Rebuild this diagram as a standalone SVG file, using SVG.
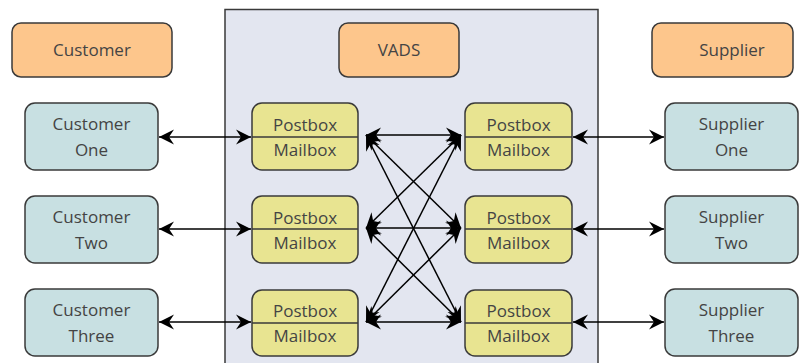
<svg xmlns="http://www.w3.org/2000/svg" width="805" height="363" viewBox="0 0 805 363">
<style>
.hdr{fill:#fdc68c;stroke:#3a3a3a;stroke-width:1.5}
.ent{fill:#c8e0e2;stroke:#3a3a3a;stroke-width:1.5}
.box{fill:#e8e491;stroke:#3a3a3a;stroke-width:1.5}
.div{stroke:#3a3a3a;stroke-width:1.5}
text{font-family:"Open Sans","Noto Sans",sans-serif;font-size:17px;fill:#444;text-anchor:middle}
.c line{stroke:#000;stroke-width:1.5;marker-start:url(#ah);marker-end:url(#ah)}
</style>
<defs>
<marker id="ah" viewBox="-16 -8 17 16" markerWidth="17" markerHeight="16" refX="0" refY="0" orient="auto-start-reverse" markerUnits="userSpaceOnUse">
<path d="M0,0 L-15,-7.5 L-10,0 L-15,7.5 Z" fill="#000"/>
</marker>
</defs>
<rect width="805" height="363" fill="#fff"/>
<g id="vads-area">
<rect x="225" y="9.5" width="373" height="365" fill="#e3e6f0" stroke="#3a3a3a" stroke-width="1.5"/>
</g>
<g id="hdr-customer"><rect class="hdr" x="12" y="23" width="160" height="54" rx="9"/><text x="92" y="56">Customer</text></g>
<g id="hdr-vads"><rect class="hdr" x="339" y="23" width="120" height="54" rx="9"/><text x="399" y="56">VADS</text></g>
<g id="hdr-supplier"><rect class="hdr" x="652" y="23" width="141" height="54" rx="9"/><text x="732" y="56">Supplier</text></g>

<g id="customer-one"><rect class="ent" x="25" y="103" width="133" height="67" rx="10"/><text x="91.5" y="130">Customer</text><text x="91.5" y="156">One</text></g>
<g id="customer-two"><rect class="ent" x="25" y="196" width="133" height="67" rx="10"/><text x="91.5" y="223">Customer</text><text x="91.5" y="249">Two</text></g>
<g id="customer-three"><rect class="ent" x="25" y="289" width="133" height="67" rx="10"/><text x="91.5" y="316">Customer</text><text x="91.5" y="342">Three</text></g>

<g id="supplier-one"><rect class="ent" x="665" y="103" width="133" height="67" rx="10"/><text x="731.5" y="130">Supplier</text><text x="731.5" y="156">One</text></g>
<g id="supplier-two"><rect class="ent" x="665" y="196" width="133" height="67" rx="10"/><text x="731.5" y="223">Supplier</text><text x="731.5" y="249">Two</text></g>
<g id="supplier-three"><rect class="ent" x="665" y="289" width="133" height="67" rx="10"/><text x="731.5" y="316">Supplier</text><text x="731.5" y="342">Three</text></g>

<g id="left-box-1"><rect class="box" x="252" y="103" width="106" height="67" rx="10"/><line class="div" x1="252" y1="137" x2="358" y2="137"/><text x="305" y="131">Postbox</text><text x="305" y="156">Mailbox</text></g>
<g id="left-box-2"><rect class="box" x="252" y="196" width="106" height="67" rx="10"/><line class="div" x1="252" y1="229" x2="358" y2="229"/><text x="305" y="224">Postbox</text><text x="305" y="249">Mailbox</text></g>
<g id="left-box-3"><rect class="box" x="252" y="290" width="106" height="66" rx="10"/><line class="div" x1="252" y1="323" x2="358" y2="323"/><text x="305" y="317">Postbox</text><text x="305" y="342">Mailbox</text></g>

<g id="right-box-1"><rect class="box" x="465" y="103" width="107" height="67" rx="10"/><line class="div" x1="465" y1="137" x2="572" y2="137"/><text x="518.5" y="131">Postbox</text><text x="518.5" y="156">Mailbox</text></g>
<g id="right-box-2"><rect class="box" x="465" y="196" width="107" height="67" rx="10"/><line class="div" x1="465" y1="229" x2="572" y2="229"/><text x="518.5" y="224">Postbox</text><text x="518.5" y="249">Mailbox</text></g>
<g id="right-box-3"><rect class="box" x="465" y="290" width="107" height="66" rx="10"/><line class="div" x1="465" y1="323" x2="572" y2="323"/><text x="518.5" y="317">Postbox</text><text x="518.5" y="342">Mailbox</text></g>

<g id="connectors" class="c">
<line x1="159" y1="137" x2="251" y2="137"/>
<line x1="159" y1="229" x2="251" y2="229"/>
<line x1="159" y1="322" x2="251" y2="322"/>
<line x1="573" y1="137" x2="664" y2="137"/>
<line x1="573" y1="229" x2="664" y2="229"/>
<line x1="573" y1="322" x2="664" y2="322"/>
<line x1="366" y1="135" x2="461" y2="135"/>
<line x1="366" y1="135" x2="461" y2="228"/>
<line x1="366" y1="135" x2="461" y2="322"/>
<line x1="366" y1="228" x2="461" y2="135"/>
<line x1="366" y1="228" x2="461" y2="228"/>
<line x1="366" y1="228" x2="461" y2="322"/>
<line x1="366" y1="322" x2="461" y2="135"/>
<line x1="366" y1="322" x2="461" y2="228"/>
<line x1="366" y1="322" x2="461" y2="322"/>
</g>
</svg>
